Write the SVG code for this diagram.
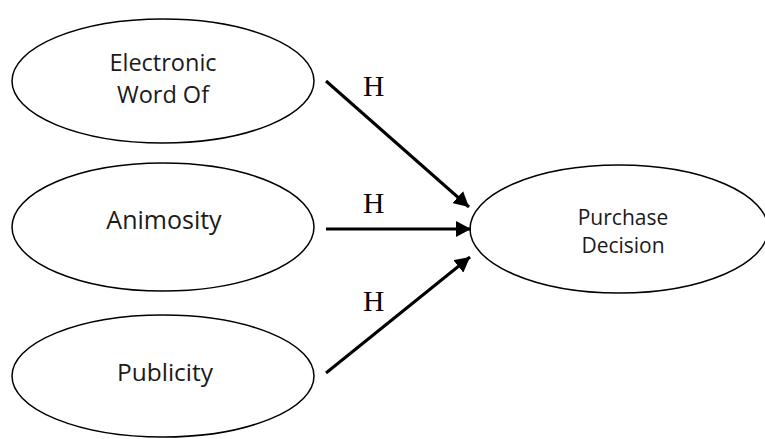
<svg xmlns="http://www.w3.org/2000/svg" width="765" height="439" viewBox="0 0 765 439">
<defs>
<marker id="ah" viewBox="0 0 15 16" refX="15" refY="8" markerWidth="5" markerHeight="5.33" markerUnits="strokeWidth" orient="auto">
<path d="M0,0 L15,8 L0,16 z" fill="#000"/>
</marker>
<style>
.node ellipse{fill:#fff;stroke:#000;stroke-width:1.5}
.lbl{font-family:"Open Sans","Noto Sans",sans-serif;fill:#1a1a1a;text-anchor:middle}
.h{font-family:"Liberation Serif",serif;font-size:29.5px;fill:#000}
.conn line{stroke:#000;stroke-width:3}
</style>
</defs>
<rect width="765" height="439" fill="#fff"/>
<g id="n-ewom" class="node">
<ellipse cx="163" cy="81" rx="151" ry="62"/>
<text class="lbl" x="163" y="71" font-size="23.5">Electronic</text>
<text class="lbl" x="163" y="103" font-size="23.5">Word Of</text>
</g>
<g id="n-animosity" class="node">
<ellipse cx="163" cy="227" rx="151" ry="64"/>
<text class="lbl" x="164" y="229" font-size="25">Animosity</text>
</g>
<g id="n-publicity" class="node">
<ellipse cx="163" cy="376" rx="151" ry="61"/>
<text class="lbl" x="165" y="381" font-size="24.5">Publicity</text>
</g>
<g id="n-purchase" class="node">
<ellipse cx="619" cy="229" rx="149" ry="64"/>
<text class="lbl" x="623" y="225" font-size="21">Purchase</text>
<text class="lbl" x="623" y="253" font-size="21">Decision</text>
</g>
<g id="connectors" class="conn">
<line x1="326" y1="81" x2="469" y2="207" marker-end="url(#ah)"/>
<line x1="326" y1="229" x2="471" y2="229" marker-end="url(#ah)"/>
<line x1="326" y1="373" x2="470" y2="257" marker-end="url(#ah)"/>
</g>
<g id="labels">
<text class="h" x="363" y="96">H</text>
<text class="h" x="363" y="213">H</text>
<text class="h" x="363" y="311">H</text>
</g>
</svg>
